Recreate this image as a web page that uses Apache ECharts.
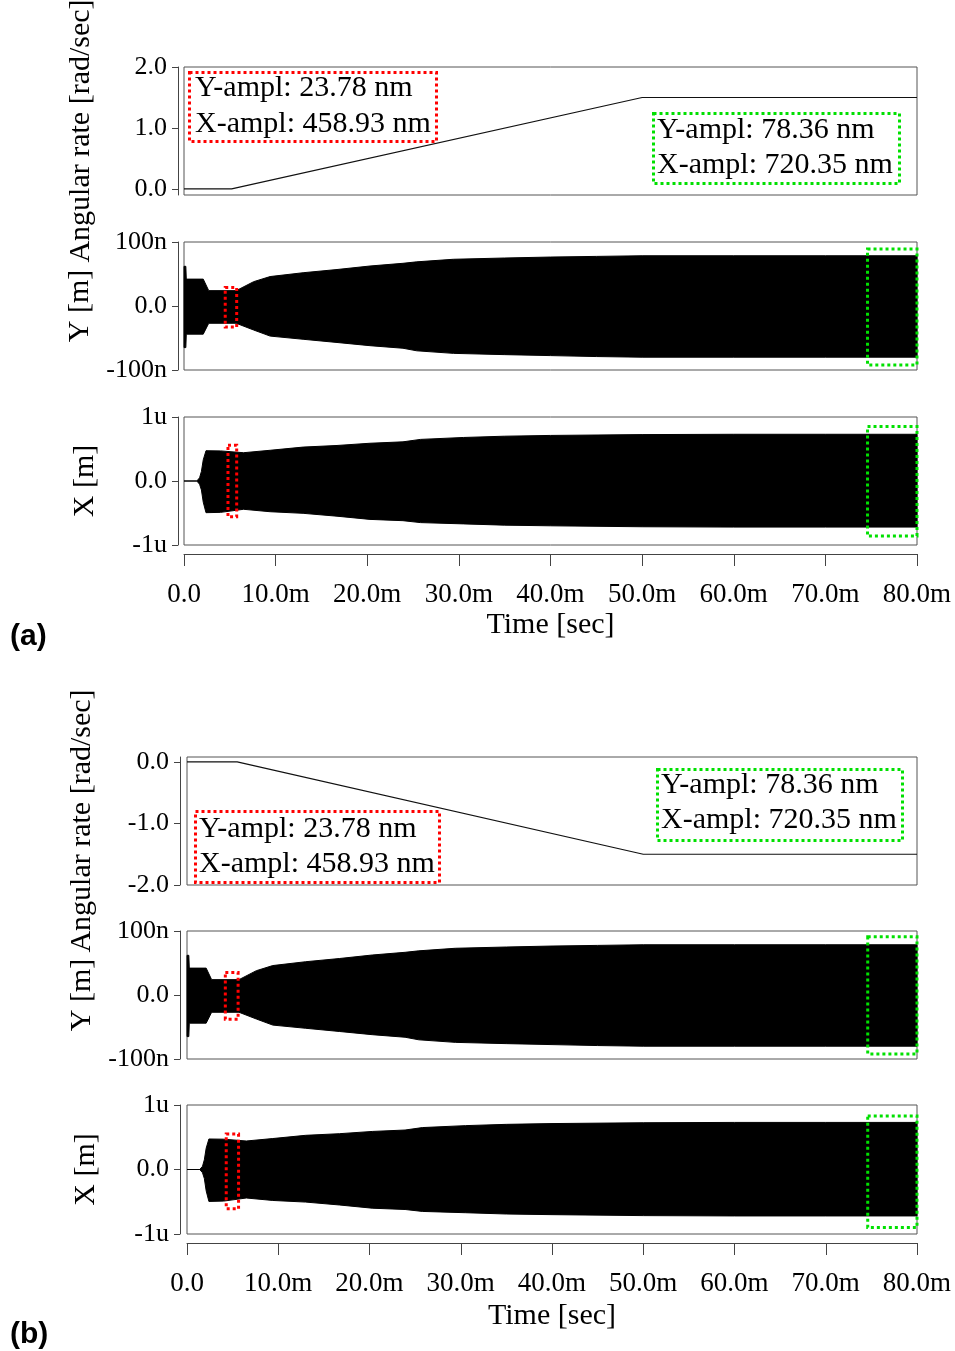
<!DOCTYPE html>
<html>
<head>
<meta charset="utf-8">
<script src="https://cdn.jsdelivr.net/npm/echarts@6/dist/echarts.min.js"></script>
<style>html,body{margin:0;padding:0;background:#fff}#c{width:955px;height:1351px}</style>
</head>
<body>
<div id="c"></div>
<script>
// ---------- data (time in ms, displacement in nm) ----------
const timeTickVals = [0, 10, 20, 30, 40, 50, 60, 70, 80];
const timeTickLabels = ['0.0', '10.0m', '20.0m', '30.0m', '40.0m', '50.0m', '60.0m', '70.0m', '80.0m'];

const rateTickValsA = [0, 1, 2];
const rateTickLabelsA = ['0.0', '1.0', '2.0'];
const rateTickValsB = [-2, -1, 0];
const rateTickLabelsB = ['-2.0', '-1.0', '0.0'];
const yTickVals = [-100, 0, 100];
const yTickLabels = ['-100n', '0.0', '100n'];
const xTickVals = [-1000, 0, 1000];
const xTickLabels = ['-1u', '0.0', '1u'];

// angular rate profiles
const rateTimeA = [0, 5.2, 50, 80];
const rateA = [0, 0, 1.5, 1.5];
const rateTimeB = [0, 5.5, 50, 80];
const rateB = [0, 0, -1.5, -1.5];

// Y displacement envelope (nm)
const envTimeY = [0, 0.2, 0.25, 2.1, 2.7, 5.7, 7.6, 9.4, 13, 16.7, 20.3, 23.9, 25.4, 29.4, 35, 40, 45, 50, 60, 70, 80];
const yUpper   = [62, 62, 42, 42, 24, 24, 38, 46, 52, 57, 62.5, 66.7, 69, 73, 75, 76.5, 77.5, 78.5, 78.5, 78.5, 78.5];
const yLower   = [-65, -65, -44, -44, -27, -27, -37.5, -47, -52, -57, -62, -66, -70, -74, -76, -77.5, -79, -80, -80, -80, -80];

// X displacement envelope (nm)
const envTimeX = [0, 1.4, 1.7, 1.9, 2.1, 2.4, 4, 6.5, 9.4, 13, 16.7, 20.3, 23.9, 25.8, 30.5, 35, 40, 50, 60, 70, 80];
const xUpper   = [0, 0, 50, 150, 330, 473, 470, 442, 480, 530, 555, 590, 612, 650, 680, 700, 712, 725, 730, 730, 730];
const xLower   = [0, 0, -50, -140, -330, -495, -490, -442, -480, -505, -550, -600, -620, -650, -670, -690, -700, -715, -720, -720, -720];

// highlighted windows [t0, t1, yTop, yBottom]
const redBoxYA = [4.5, 5.75, 29, -33];
const redBoxXA = [4.8, 5.75, 560, -560];
const greenBoxYA = [74.6, 80, 89, -92];
const greenBoxXA = [74.6, 80, 850, -860];
const redBoxYB = [4.2, 5.6, 35, -38];
const redBoxXB = [4.3, 5.65, 550, -610];
const greenBoxYB = [74.6, 80, 91, -92];
const greenBoxXB = [74.6, 80, 830, -900];

const annotRed = ['Y-ampl: 23.78 nm', 'X-ampl: 458.93 nm'];
const annotGreen = ['Y-ampl: 78.36 nm', 'X-ampl: 720.35 nm'];

// ---------- chart ----------
const SERIF = "'Liberation Serif','Times New Roman',serif";
const AX = '#444';
const zip = (a, b) => a.map((v, i) => [v, b[i]]);
const fmtFrom = (vals, labels) => (v) => {
  const i = vals.findIndex(t => Math.abs(t - v) < 1e-6);
  return i >= 0 ? labels[i] : '';
};

const grids = [
  { left: 184, top: 67, width: 733, height: 128 },
  { left: 184, top: 242, width: 733, height: 128 },
  { left: 184, top: 417, width: 733, height: 128 },
  { left: 187, top: 757, width: 730, height: 128 },
  { left: 187, top: 931, width: 730, height: 128 },
  { left: 187, top: 1105, width: 730, height: 129 }
].map(g => Object.assign({ show: true, containLabel: false, outerBoundsMode: 'none', borderColor: '#555', borderWidth: 1, backgroundColor: 'transparent' }, g));

function xAxisCfg(gi, shown) {
  return {
    type: 'value', gridIndex: gi, min: 0, max: 80, interval: 10,
    show: shown, position: 'bottom', offset: 9,
    axisLine: { show: true, onZero: false, lineStyle: { color: AX, width: 1 } },
    axisTick: { show: true, inside: false, length: 12, lineStyle: { color: AX } },
    axisLabel: { show: true, margin: 27, formatter: fmtFrom(timeTickVals, timeTickLabels), fontFamily: SERIF, fontSize: 27, color: '#000', showMinLabel: true, showMaxLabel: true },
    splitLine: { show: false },
    name: shown ? 'Time [sec]' : '', nameLocation: 'middle', nameGap: gi === 5 ? 58 : 56,
    nameTextStyle: { fontFamily: SERIF, fontSize: 30, color: '#000' }
  };
}

function yAxisCfg(gi, min, max, vals, labels, name, gap, off) {
  return {
    type: 'value', gridIndex: gi, min: min, max: max, position: 'left', offset: off,
    axisLine: { show: true, onZero: false, lineStyle: { color: AX, width: 1 } },
    axisTick: { show: true, inside: false, length: 6, customValues: vals, lineStyle: { color: AX } },
    axisLabel: { show: true, margin: 11, customValues: vals, formatter: fmtFrom(vals, labels), fontFamily: SERIF, fontSize: 26, color: '#000' },
    splitLine: { show: false },
    name: name, nameLocation: 'middle', nameGap: gap, nameRotate: 90,
    nameTextStyle: { fontFamily: SERIF, fontSize: 30, color: '#000' }
  };
}

const xAxes = [0, 1, 2, 3, 4, 5].map(i => xAxisCfg(i, i === 2 || i === 5));
const yAxes = [
  yAxisCfg(0, -0.1, 2.0, rateTickValsA, rateTickLabelsA, 'Angular rate [rad/sec]', 82, 6),
  yAxisCfg(1, -100, 100, yTickVals, yTickLabels, 'Y [m]', 82, 6),
  yAxisCfg(2, -1000, 1000, xTickVals, xTickLabels, 'X [m]', 78, 6),
  yAxisCfg(3, -2.0, 0.08, rateTickValsB, rateTickLabelsB, 'Angular rate [rad/sec]', 83, 7),
  yAxisCfg(4, -100, 100, yTickVals, yTickLabels, 'Y [m]', 83, 7),
  yAxisCfg(5, -1000, 1000, xTickVals, xTickLabels, 'X [m]', 79, 7)
];

function lineSeries(gi, data, w) {
  return {
    type: 'line', xAxisIndex: gi, yAxisIndex: gi, data: data, showSymbol: false, symbol: 'none',
    silent: true, animation: false, lineStyle: { color: '#111', width: w }
  };
}
// envelope band drawn as one filled polygon through the axis scales
function bandSeries(gi, t, lower, upper) {
  return {
    type: 'custom', xAxisIndex: gi, yAxisIndex: gi, silent: true, animation: false, z: 3,
    data: t.map((v, i) => [v, upper[i], lower[i]]),
    encode: { x: 0, y: [1, 2] },
    renderItem: function (params, api) {
      if (params.dataIndexInside !== 0) return null;
      const n = params.dataInsideLength;
      const top = [], bot = [];
      for (let i = 0; i < n; i++) {
        const tv = api.value(0, i);
        top.push(api.coord([tv, api.value(1, i)]));
        bot.push(api.coord([tv, api.value(2, i)]));
      }
      const pts = top.concat(bot.reverse());
      return { type: 'polygon', shape: { points: pts },
        style: { fill: '#000', stroke: '#000', lineWidth: 1 } };
    }
  };
}
function markHost(gi, boxes, color) {
  return {
    type: 'line', xAxisIndex: gi, yAxisIndex: gi, data: [], silent: true, animation: false, clip: false, z: 10,
    markArea: {
      silent: true, z: 10,
      itemStyle: { color: 'rgba(0,0,0,0)', borderColor: color, borderWidth: 3, borderType: 'dotted' },
      data: boxes.map(b => [{ coord: [b[0], b[2]] }, { coord: [b[1], b[3]] }])
    }
  };
}

const series = [
  lineSeries(0, zip(rateTimeA, rateA), 1.2),
  bandSeries(1, envTimeY, yLower, yUpper),
  bandSeries(2, envTimeX, xLower, xUpper),
  markHost(1, [redBoxYA], '#ff0000'),
  markHost(1, [greenBoxYA], '#00e000'),
  markHost(2, [redBoxXA], '#ff0000'),
  markHost(2, [greenBoxXA], '#00e000'),
  lineSeries(3, zip(rateTimeB, rateB), 1.2),
  bandSeries(4, envTimeY, yLower, yUpper),
  bandSeries(5, envTimeX, xLower, xUpper),
  markHost(4, [redBoxYB], '#ff0000'),
  markHost(4, [greenBoxYB], '#00e000'),
  markHost(5, [redBoxXB], '#ff0000'),
  markHost(5, [greenBoxXB], '#00e000')
];

const ANNOT_FONT = "30px 'Liberation Serif','Times New Roman',serif";
function textBox(x, y, w, h, color, tx, ty1, ty2, lines) {
  return {
    type: 'group', z: 100, silent: true,
    children: [
      { type: 'rect', shape: { x: x, y: y, width: w, height: h },
        style: { fill: null, stroke: color, lineWidth: 3, lineDash: [3, 3] } },
      { type: 'text', style: { text: lines[0], x: tx, y: ty1, verticalAlign: 'middle', align: 'left', font: ANNOT_FONT, fill: '#000' } },
      { type: 'text', style: { text: lines[1], x: tx, y: ty2, verticalAlign: 'middle', align: 'left', font: ANNOT_FONT, fill: '#000' } }
    ]
  };
}

const graphic = [
  textBox(189.5, 72.5, 247, 69, '#ff0000', 195, 88, 124, annotRed),
  textBox(653.5, 113.5, 246, 70, '#00e000', 657, 130, 165, annotGreen),
  textBox(195.5, 811.5, 244, 71, '#ff0000', 199, 829, 864, annotRed),
  textBox(657.5, 769.5, 245, 71, '#00e000', 661, 785, 820, annotGreen),
  { type: 'text', z: 100, style: { text: '(a)', x: 10, y: 637, verticalAlign: 'middle', font: "bold 30px 'Liberation Sans',Arial,sans-serif", fill: '#000' } },
  { type: 'text', z: 100, style: { text: '(b)', x: 10, y: 1335, verticalAlign: 'middle', font: "bold 30px 'Liberation Sans',Arial,sans-serif", fill: '#000' } }
];

const chart = echarts.init(document.getElementById('c'), null, { renderer: 'canvas' });
chart.setOption({
  backgroundColor: '#fff',
  animation: false,
  grid: grids,
  xAxis: xAxes,
  yAxis: yAxes,
  series: series,
  graphic: graphic
});
</script>
</body>
</html>
